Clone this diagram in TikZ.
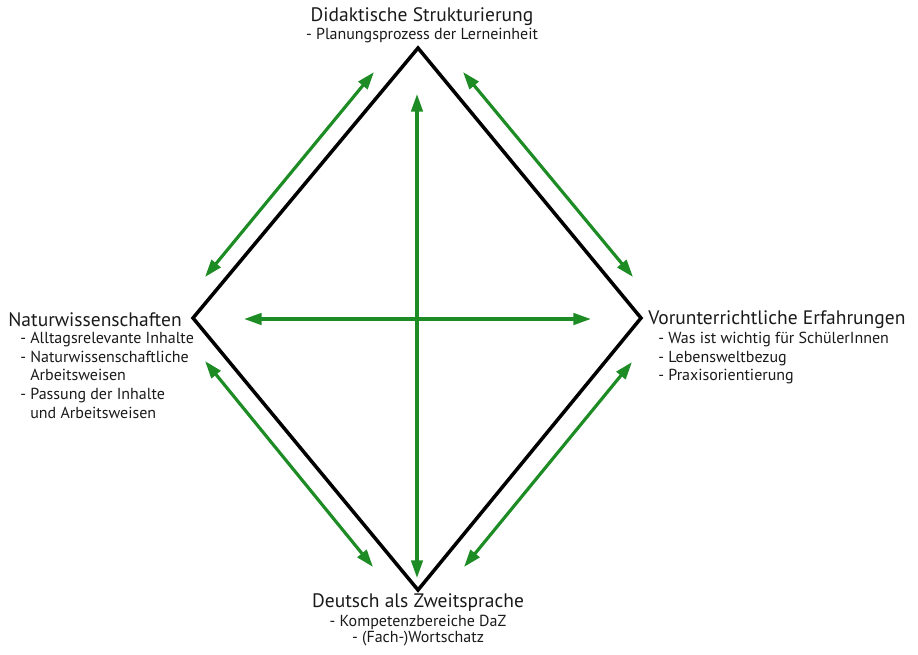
\documentclass[tikz,border=0pt]{standalone}
\usepackage{fontspec}
\setmainfont{PT Sans}
\usetikzlibrary{arrows.meta, positioning}
\definecolor{greenA}{HTML}{1E8C25}
\definecolor{inkA}{HTML}{1A1A1A}

\begin{document}
\begin{tikzpicture}[
  x=0.02cm, y=-0.02cm,
  diam/.style={draw=black, line width=2pt, line join=miter},
  arr/.style={{Triangle[length=10pt, width=6.5pt]}-{Triangle[length=10pt, width=6.5pt]}, draw=greenA, line width=1.8pt},
  head/.style={font=\fontsize{11.1}{13}\selectfont, text=inkA, inner sep=0pt},
  item/.style={font=\fontsize{9.1}{10.6}\selectfont, text=inkA, inner sep=0pt, align=left},
]
\useasboundingbox (0,0) rectangle (918,654);

%% Raute
\coordinate (T) at (418,48);
\coordinate (L) at (193,318);
\coordinate (R) at (641,318);
\coordinate (B) at (418,590);
\draw[diam] (T) -- (R) -- (B) -- (L) -- cycle;

%% Endpunkte der Pfeile
\coordinate (vt) at (417,94);
\coordinate (vb) at (417,578);
\coordinate (hl) at (244,319);
\coordinate (hr) at (591,319);
\coordinate (ul1) at (205,277);
\coordinate (ul2) at (374,72);
\coordinate (ur1) at (463,72);
\coordinate (ur2) at (633,277);
\coordinate (ll1) at (205,361);
\coordinate (ll2) at (373,567);
\coordinate (lr1) at (464,567);
\coordinate (lr2) at (632,362);

\draw[arr] (vt) -- (vb);
\draw[arr] (hl) -- (hr);
\draw[arr] (ul1) -- (ul2);
\draw[arr] (ur1) -- (ur2);
\draw[arr] (ll1) -- (ll2);
\draw[arr] (lr1) -- (lr2);

%% Oben
\node[head] (didaktik) at (422,17) {Didaktische Strukturierung};
\node[item] (planung) at (422,36) {- Planungsprozess der Lerneinheit};

%% Links
\node[head, anchor=west] (natur) at (8,320) {Naturwissenschaften};
\node[item, anchor=north west] (naturitems) at (20,332)
  {- Alltagsrelevante Inhalte\\
   - Naturwissenschaftliche\\
   \phantom{- }Arbeitsweisen\\
   - Passung der Inhalte\\
   \phantom{- }und Arbeitsweisen};

%% Rechts
\node[head, anchor=west] (vorunt) at (648,320) {Vorunterrichtliche Erfahrungen};
\node[item, anchor=north west] (voruntitems) at (658,332)
  {- Was ist wichtig f\"ur Sch\"ulerInnen\\
   - Lebensweltbezug\\
   - Praxisorientierung};

%% Unten
\node[head] (daz) at (418,603) {Deutsch als Zweitsprache};
\node[item] (dazitems) at (418,622) {- Kompetenzbereiche DaZ};
\node[item] (wortschatz) at (418,639) {- (Fach-)Wortschatz};

\end{tikzpicture}
\end{document}
